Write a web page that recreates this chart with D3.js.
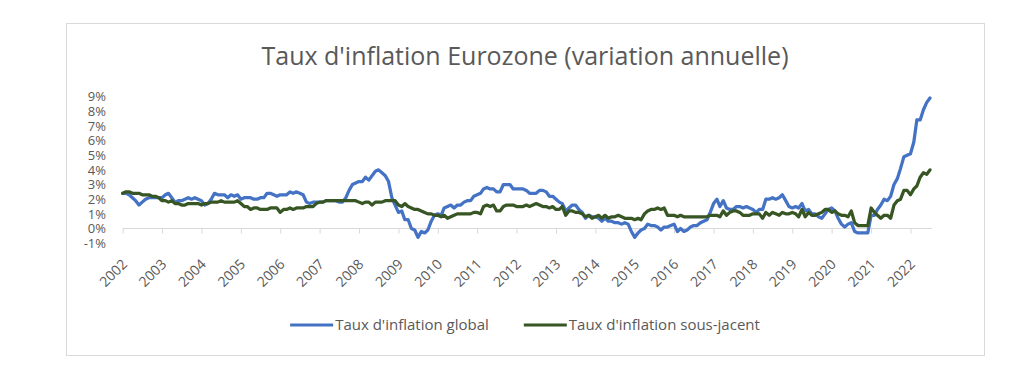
<!DOCTYPE html>
<html>
<head>
<meta charset="utf-8">
<script src="https://cdn.jsdelivr.net/npm/d3@7/dist/d3.min.js"></script>
<style>
  body { margin: 0; background: #fff; }
  svg { display: block; font-family: "Open Sans", Lato, sans-serif; font-variant-ligatures: none; }
</style>
</head>
<body>
<div id="chart"></div>
<script>
// monthly data, Jan 2002 -> Jul 2022
const firstMonth = [2002, 0];
const yearLabels = [2002, 2003, 2004, 2005, 2006, 2007, 2008, 2009, 2010, 2011, 2012,
                    2013, 2014, 2015, 2016, 2017, 2018, 2019, 2020, 2021, 2022];
const yTicks = [-1, 0, 1, 2, 3, 4, 5, 6, 7, 8, 9];
const seriesNames = ["Taux d'inflation global", "Taux d'inflation sous-jacent"];

const headline = [
  2.4, 2.4, 2.3, 2.1, 1.9, 1.6, 1.8, 2.0, 2.1, 2.1, 2.1, 2.1,   // 2002
  2.1, 2.3, 2.4, 2.1, 1.8, 1.9, 1.9, 2.0, 2.1, 2.0, 2.1, 2.0,   // 2003
  1.9, 1.6, 1.7, 2.0, 2.4, 2.3, 2.3, 2.3, 2.1, 2.3, 2.2, 2.3,   // 2004
  2.0, 2.1, 2.1, 2.1, 2.0, 2.0, 2.1, 2.1, 2.4, 2.4, 2.3, 2.2,   // 2005
  2.3, 2.3, 2.3, 2.5, 2.4, 2.5, 2.4, 2.3, 1.8, 1.7, 1.8, 1.8,   // 2006
  1.8, 1.8, 1.9, 1.9, 1.9, 1.9, 1.8, 1.8, 2.1, 2.6, 3.0, 3.1,   // 2007
  3.2, 3.2, 3.5, 3.3, 3.6, 3.9, 4.0, 3.8, 3.6, 3.2, 2.1, 1.6,   // 2008
  1.1, 1.2, 0.6, 0.6, 0.0, -0.1, -0.6, -0.2, -0.3, -0.1, 0.5, 0.9, // 2009
  1.0, 0.9, 1.4, 1.5, 1.6, 1.4, 1.6, 1.6, 1.8, 1.9, 1.9, 2.2,   // 2010
  2.3, 2.4, 2.7, 2.8, 2.7, 2.7, 2.5, 2.5, 3.0, 3.0, 3.0, 2.7,   // 2011
  2.7, 2.7, 2.7, 2.6, 2.4, 2.4, 2.4, 2.6, 2.6, 2.5, 2.2, 2.2,   // 2012
  2.0, 1.8, 1.7, 1.2, 1.4, 1.6, 1.6, 1.3, 1.1, 0.7, 0.9, 0.8,   // 2013
  0.8, 0.7, 0.5, 0.7, 0.5, 0.5, 0.4, 0.4, 0.3, 0.4, 0.3, -0.2,  // 2014
  -0.6, -0.3, -0.1, 0.0, 0.3, 0.2, 0.2, 0.1, -0.1, 0.1, 0.1, 0.2, // 2015
  0.3, -0.2, 0.0, -0.2, -0.1, 0.1, 0.2, 0.2, 0.4, 0.5, 0.6, 1.1, // 2016
  1.7, 2.0, 1.5, 1.9, 1.4, 1.3, 1.3, 1.5, 1.5, 1.4, 1.5, 1.4,   // 2017
  1.3, 1.1, 1.3, 1.3, 2.0, 2.0, 2.1, 2.0, 2.1, 2.3, 1.9, 1.5,   // 2018
  1.4, 1.5, 1.4, 1.7, 1.2, 1.3, 1.0, 1.0, 0.8, 0.7, 1.0, 1.3,   // 2019
  1.4, 1.2, 0.7, 0.3, 0.1, 0.3, 0.4, -0.2, -0.3, -0.3, -0.3, -0.3, // 2020
  0.9, 0.9, 1.3, 1.6, 2.0, 1.9, 2.2, 3.0, 3.4, 4.1, 4.9, 5.0,   // 2021
  5.1, 5.9, 7.4, 7.4, 8.1, 8.6, 8.9                             // 2022
];

const core = [
  2.4, 2.5, 2.5, 2.4, 2.4, 2.4, 2.3, 2.3, 2.3, 2.2, 2.2, 2.1,   // 2002
  1.9, 1.9, 1.8, 1.9, 1.7, 1.7, 1.6, 1.6, 1.7, 1.7, 1.7, 1.7,   // 2003
  1.6, 1.7, 1.7, 1.8, 1.8, 1.8, 1.9, 1.8, 1.8, 1.8, 1.8, 1.9,   // 2004
  1.7, 1.5, 1.5, 1.3, 1.4, 1.4, 1.3, 1.3, 1.3, 1.4, 1.4, 1.4,   // 2005
  1.1, 1.3, 1.3, 1.4, 1.3, 1.4, 1.4, 1.4, 1.5, 1.5, 1.5, 1.7,   // 2006
  1.8, 1.8, 1.9, 1.9, 1.9, 1.9, 1.9, 1.9, 1.9, 1.9, 1.9, 1.9,   // 2007
  1.8, 1.7, 1.8, 1.8, 1.6, 1.8, 1.8, 1.8, 1.9, 1.9, 1.9, 1.9,   // 2008
  1.6, 1.5, 1.7, 1.5, 1.4, 1.3, 1.3, 1.2, 1.1, 1.0, 1.0, 0.9,   // 2009
  0.9, 0.8, 0.9, 0.7, 0.8, 0.9, 1.0, 1.0, 1.0, 1.0, 1.0, 1.1,   // 2010
  1.1, 1.0, 1.5, 1.6, 1.5, 1.6, 1.2, 1.2, 1.5, 1.6, 1.6, 1.6,   // 2011
  1.5, 1.5, 1.5, 1.6, 1.5, 1.6, 1.7, 1.6, 1.5, 1.5, 1.4, 1.5,   // 2012
  1.3, 1.3, 1.5, 0.9, 1.2, 1.2, 1.1, 1.1, 1.0, 0.8, 0.9, 0.7,   // 2013
  0.8, 0.9, 0.7, 0.9, 0.7, 0.8, 0.8, 0.9, 0.8, 0.7, 0.7, 0.7,   // 2014
  0.6, 0.7, 0.6, 1.0, 1.2, 1.3, 1.3, 1.4, 1.3, 1.4, 0.9, 0.9,   // 2015
  0.9, 0.8, 0.9, 0.8, 0.8, 0.8, 0.8, 0.8, 0.8, 0.8, 0.8, 0.9,   // 2016
  0.9, 0.9, 0.8, 1.2, 0.9, 1.1, 1.2, 1.2, 1.1, 0.9, 0.9, 0.9,   // 2017
  1.0, 1.0, 1.0, 0.7, 1.1, 0.9, 1.1, 1.0, 0.9, 1.1, 1.0, 1.0,   // 2018
  1.1, 1.0, 0.8, 1.3, 0.8, 1.1, 0.9, 0.9, 1.0, 1.1, 1.3, 1.3,   // 2019
  1.1, 1.2, 1.0, 0.9, 0.9, 0.8, 1.2, 0.4, 0.2, 0.2, 0.2, 0.2,   // 2020
  1.4, 1.1, 0.9, 0.7, 0.9, 0.9, 0.7, 1.6, 1.9, 2.0, 2.6, 2.6,   // 2021
  2.3, 2.7, 2.9, 3.5, 3.8, 3.7, 4.0                             // 2022
];

const colors = ["#4472c4", "#375623"];
const textColor = "#595959";
const font = "'Open Sans', Lato, sans-serif";

const W = 1030, H = 376;
const svg = d3.select("#chart").append("svg")
  .attr("width", W)
  .attr("height", H);

// chart area frame
svg.append("rect")
  .attr("x", 66.5).attr("y", 23.5)
  .attr("width", 918).attr("height", 332)
  .attr("fill", "#fff")
  .attr("stroke", "#d9d9d9");

svg.append("text")
  .attr("x", 525).attr("y", 65)
  .attr("text-anchor", "middle")
  .style("font-size", "25px")
  .style("fill", textColor)
  .text("Taux d'inflation Eurozone (variation annuelle)");

const monthDate = i => new Date(Date.UTC(firstMonth[0], firstMonth[1] + i, 1));

const x = d3.scaleUtc()
  .domain([monthDate(0), monthDate(headline.length - 1)])
  .range([122.7, 930]);

const y = d3.scaleLinear()
  .domain([-1, 9])
  .range([243.2, 96.5]);

// Y labels (no axis line, no grid)
const yAxis = svg.append("g")
  .attr("transform", "translate(108,0)")
  .call(d3.axisLeft(y).tickValues(yTicks).tickFormat(d => d + "%").tickSize(0));
yAxis.select(".domain").remove();
yAxis.selectAll("text")
  .attr("x", -2)
  .style("font-family", font)
  .style("font-size", "13px")
  .style("fill", textColor);

// X axis at 0%
const xAxis = svg.append("g")
  .attr("transform", `translate(0,${y(0)})`)
  .call(d3.axisBottom(x)
    .tickValues(yearLabels.map(yr => new Date(Date.UTC(yr, 0, 1))))
    .tickFormat(d3.utcFormat("%Y"))
    .tickSize(5)
    .tickSizeOuter(0));
xAxis.select(".domain")
  .attr("d", `M${x.range()[0]},0H${x.range()[1] + 2}`)
  .style("stroke", "#d9d9d9");
xAxis.selectAll(".tick line").style("stroke", "#d9d9d9");
xAxis.selectAll(".tick text")
  .attr("y", 0).attr("dy", null)
  .attr("text-anchor", "end")
  .attr("dominant-baseline", "central")
  .attr("transform", `translate(1,${y(-1) + 18 - y(0)}) rotate(-45)`)
  .style("font-family", font)
  .style("font-size", "14px")
  .style("fill", textColor);

// lines
const line = d3.line()
  .x((d, i) => x(monthDate(i)))
  .y(d => y(d));

[headline, core].forEach((series, k) => {
  svg.append("path")
    .datum(series)
    .attr("fill", "none")
    .attr("stroke", colors[k])
    .attr("stroke-width", 3.25)
    .attr("stroke-linejoin", "round")
    .attr("stroke-linecap", "round")
    .attr("d", line);
});

// legend
const legend = svg.append("g");
let lx = 0;
seriesNames.forEach((name, k) => {
  const g = legend.append("g").attr("transform", `translate(${lx},0)`);
  g.append("line")
    .attr("x1", 0).attr("x2", 43)
    .attr("y1", 0).attr("y2", 0)
    .attr("stroke", colors[k])
    .attr("stroke-width", 3);
  const t = g.append("text")
    .attr("x", 45).attr("y", 5)
    .style("font-size", "15px")
    .style("fill", textColor)
    .text(name);
  lx += 45 + t.node().getComputedTextLength() + 35;
});
const legendW = lx - 35;
legend.attr("transform", `translate(${525 - legendW / 2},325)`);
</script>
</body>
</html>
